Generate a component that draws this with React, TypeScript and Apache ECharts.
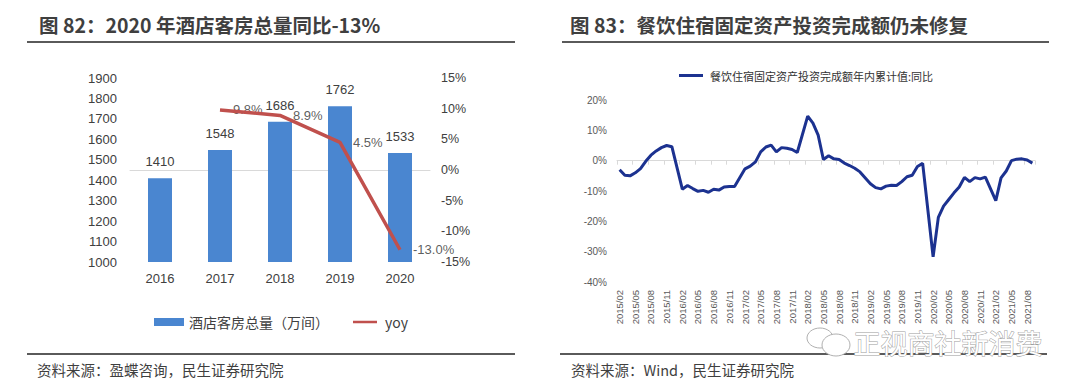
import React, { useEffect, useRef } from "react";
import * as echarts from "echarts";

// ---- Left chart data ----
const years = ["2016", "2017", "2018", "2019", "2020"];
const roomTotals = [1410, 1548, 1686, 1762, 1533];
const roomYoy: (number | null)[] = [null, 9.8, 8.9, 4.5, -13.0];

// ---- Right chart data (monthly, 2015/02 – 2021/09; January not reported) ----
const monthStart = { year: 2015, month: 2 };
const monthCount = 80;
const fixedAssetYoy: (number | null)[] = [
  -3.0, -4.8, -5.0, -4.0, -2.6, -0.2, 1.8, 3.2, 4.3, 5.0, 4.6,
  null, -9.4, -8.2, -9.2, -10.1, -9.8, -10.4, -9.4, -9.7, -8.7, -8.5, -8.5,
  null, -2.7, -1.8, -0.4, 2.9, 4.5, 5.1, 2.9, 4.3, 4.1, 3.7, 2.7,
  null, 14.7, 12.4, 8.4, 0.4, 1.6, 0.6, 0.4, -0.8, -1.6, -2.5, -3.7,
  null, -7.6, -8.9, -9.3, -8.4, -8.1, -8.2, -6.9, -5.3, -4.8, -1.9, -0.9,
  null, -31.7, -18.7, -15.0, -12.8, -10.6, -8.7, -5.5, -6.9, -5.6, -6.0, -5.4,
  null, -13.2, -5.7, -3.4, 0.0, 0.5, 0.6, 0.2, -0.8,
];

const months: string[] = [];
for (let i = 0; i < monthCount; i++) {
  const m0 = monthStart.month - 1 + i;
  const y = monthStart.year + Math.floor(m0 / 12);
  const m = (m0 % 12) + 1;
  months.push(`${y}/${m < 10 ? "0" + m : m}`);
}

const leftTitle = "图 82：2020 年酒店客房总量同比-13%";
const rightTitle = "图 83：餐饮住宿固定资产投资完成额仍未修复";
const leftSource = "资料来源：盈蝶咨询，民生证券研究院";
const rightSource = "资料来源：Wind，民生证券研究院";
const barName = "酒店客房总量（万间）";
const yoyName = "yoy";
const rightName = "餐饮住宿固定资产投资完成额年内累计值:同比";
const watermark = "正视商社新消费";

const CJK = '"Noto Sans CJK SC", "Noto Sans", sans-serif';
const SANS = '"Liberation Sans", Arial, "Noto Sans CJK SC", sans-serif';

// legend icon: a thin horizontal band inside a taller box
const lineIcon = "path://M0,0L0.01,0Z M0,10L0.01,10Z M0,3.3L30,3.3L30,6.7L0,6.7Z";
const lineIconRight = "path://M0,0L0.01,0Z M0,10L0.01,10Z M0,3L30,3L30,7L0,7Z";

export default function App() {
  const ref = useRef<HTMLDivElement>(null);
  useEffect(() => {
    if (!ref.current) return;
    const chart = echarts.init(ref.current, undefined, { renderer: "svg" });
    const option: any = {
      animation: false,
      backgroundColor: "#ffffff",
      grid: [
        { left: 130, top: 78, width: 300, height: 184 },
        { left: 617, top: 100, width: 418, height: 182 },
      ],
      legend: [
        {
          data: [
            { name: barName, icon: "rect" },
            { name: yoyName, icon: lineIcon },
          ],
          left: 154,
          top: 315,
          padding: 0,
          itemWidth: 30,
          itemHeight: 8,
          itemGap: 24,
          textStyle: { fontSize: 14, color: "#404040", fontFamily: CJK },
        },
        {
          data: [{ name: rightName, icon: lineIconRight }],
          left: 679,
          top: 70,
          padding: 0,
          itemWidth: 28,
          itemHeight: 8,
          itemGap: 4,
          textStyle: { fontSize: 11, color: "#333", fontFamily: CJK },
        },
      ],
      xAxis: [
        {
          type: "category",
          gridIndex: 0,
          data: years,
          axisLine: { lineStyle: { color: "#d9d9d9", width: 1 } },
          axisTick: { show: false },
          axisLabel: { fontSize: 13, color: "#404040", margin: 10, fontFamily: SANS },
        },
        {
          type: "category",
          gridIndex: 1,
          data: months,
          boundaryGap: true,
          position: "bottom",
          axisLine: { show: false, onZero: false },
          axisTick: { show: false },
          axisLabel: {
            rotate: 90,
            interval: 2,
            fontSize: 9.5,
            color: "#595959",
            margin: 8,
            fontFamily: SANS,
          },
        },
        {
          type: "category",
          gridIndex: 1,
          data: months,
          boundaryGap: true,
          position: "bottom",
          axisLine: { show: true, onZero: true, lineStyle: { color: "#d9d9d9", width: 1 } },
          axisTick: { show: true, interval: 2, length: 4, lineStyle: { color: "#d9d9d9" } },
          axisLabel: { show: false },
        },
      ],
      yAxis: [
        {
          type: "value",
          gridIndex: 0,
          min: 1000,
          max: 1900,
          interval: 100,
          splitLine: { show: false },
          axisLine: { show: false },
          axisTick: { show: false },
          axisLabel: {
            fontSize: 13,
            color: "#404040",
            margin: 13,
            fontFamily: SANS,
            formatter: (v: number) => String(v),
          },
        },
        {
          type: "value",
          gridIndex: 0,
          position: "right",
          min: -15,
          max: 15,
          interval: 5,
          splitLine: { show: false },
          axisLine: { show: false },
          axisTick: { show: false },
          axisLabel: {
            fontSize: 12.5,
            color: "#404040",
            margin: 11,
            fontFamily: SANS,
            formatter: "{value}%",
          },
        },
        {
          type: "value",
          gridIndex: 1,
          min: -40,
          max: 20,
          interval: 10,
          splitLine: { show: false },
          axisLine: { show: false },
          axisTick: { show: false },
          axisLabel: {
            fontSize: 10,
            color: "#595959",
            margin: 10,
            fontFamily: SANS,
            formatter: "{value}%",
          },
        },
      ],
      series: [
        {
          type: "bar",
          name: barName,
          xAxisIndex: 0,
          yAxisIndex: 0,
          data: roomTotals,
          barWidth: 24,
          itemStyle: { color: "#4a86d0" },
          label: {
            show: true,
            position: "top",
            distance: 10,
            fontSize: 13,
            color: "#404040",
            fontFamily: SANS,
          },
        },
        {
          type: "line",
          name: yoyName,
          xAxisIndex: 0,
          yAxisIndex: 1,
          data: roomYoy,
          symbol: "none",
          lineStyle: { color: "#c0504d", width: 3.5 },
          itemStyle: { color: "#c0504d" },
        },
        {
          type: "scatter",
          xAxisIndex: 0,
          yAxisIndex: 1,
          data: roomYoy,
          symbolSize: 0,
          silent: true,
          itemStyle: { color: "#c0504d" },
          label: {
            show: true,
            position: "right",
            distance: 13,
            fontSize: 13,
            color: "#333333",
            fontFamily: SANS,
            formatter: (p: any) => {
              const v = Array.isArray(p.value) ? p.value[1] : p.value;
              return v == null ? "" : Number(v).toFixed(1) + "%";
            },
          },
        },
        {
          type: "line",
          name: rightName,
          xAxisIndex: 1,
          yAxisIndex: 2,
          data: fixedAssetYoy,
          connectNulls: true,
          symbol: "none",
          lineStyle: { color: "#1c3290", width: 3 },
          itemStyle: { color: "#1c3290" },
        },
      ],
      graphic: [
        {
          type: "text",
          left: 39,
          top: 15,
          style: {
            text: leftTitle,
            fontSize: 19.5,
            fontWeight: "bold",
            fill: "#3f3f3f",
            fontFamily: CJK,
          },
        },
        {
          type: "text",
          left: 570,
          top: 15,
          style: {
            text: rightTitle,
            fontSize: 19.5,
            fontWeight: "bold",
            fill: "#3f3f3f",
            fontFamily: CJK,
          },
        },
        {
          type: "line",
          shape: { x1: 27, y1: 42, x2: 515, y2: 42 },
          style: { stroke: "#5a5a5a", lineWidth: 2 },
        },
        {
          type: "line",
          shape: { x1: 562, y1: 42, x2: 1049, y2: 42 },
          style: { stroke: "#5a5a5a", lineWidth: 2 },
        },
        {
          type: "line",
          shape: { x1: 27, y1: 354, x2: 515, y2: 354 },
          style: { stroke: "#5a5a5a", lineWidth: 2 },
        },
        {
          type: "line",
          shape: { x1: 560, y1: 354, x2: 1047, y2: 354 },
          style: { stroke: "#5a5a5a", lineWidth: 2 },
        },
        {
          type: "text",
          left: 37,
          top: 362,
          style: { text: leftSource, fontSize: 14.5, fill: "#3f3f3f", fontFamily: CJK },
        },
        {
          type: "text",
          left: 571,
          top: 362,
          style: { text: rightSource, fontSize: 14.5, fill: "#3f3f3f", fontFamily: CJK },
        },
        {
          type: "ellipse",
          shape: { cx: 820, cy: 338, rx: 13, ry: 10 },
          style: { fill: "#ffffff", stroke: "#b0b0b0", lineWidth: 1 },
        },
        {
          type: "ellipse",
          shape: { cx: 836, cy: 345, rx: 14, ry: 11 },
          style: { fill: "#ffffff", stroke: "#b0b0b0", lineWidth: 1 },
        },
        {
          type: "text",
          left: 853,
          top: 328,
          style: {
            text: watermark,
            fontSize: 27,
            fill: "#ffffff",
            stroke: "#a0a0a0",
            lineWidth: 1,
            fontFamily: CJK,
          },
        },
      ],
    };
    chart.setOption(option);
    return () => chart.dispose();
  }, []);
  return (
    <div
      ref={ref}
      style={{ position: "fixed", left: 0, top: 0, width: 1080, height: 389, background: "#fff" }}
    />
  );
}
